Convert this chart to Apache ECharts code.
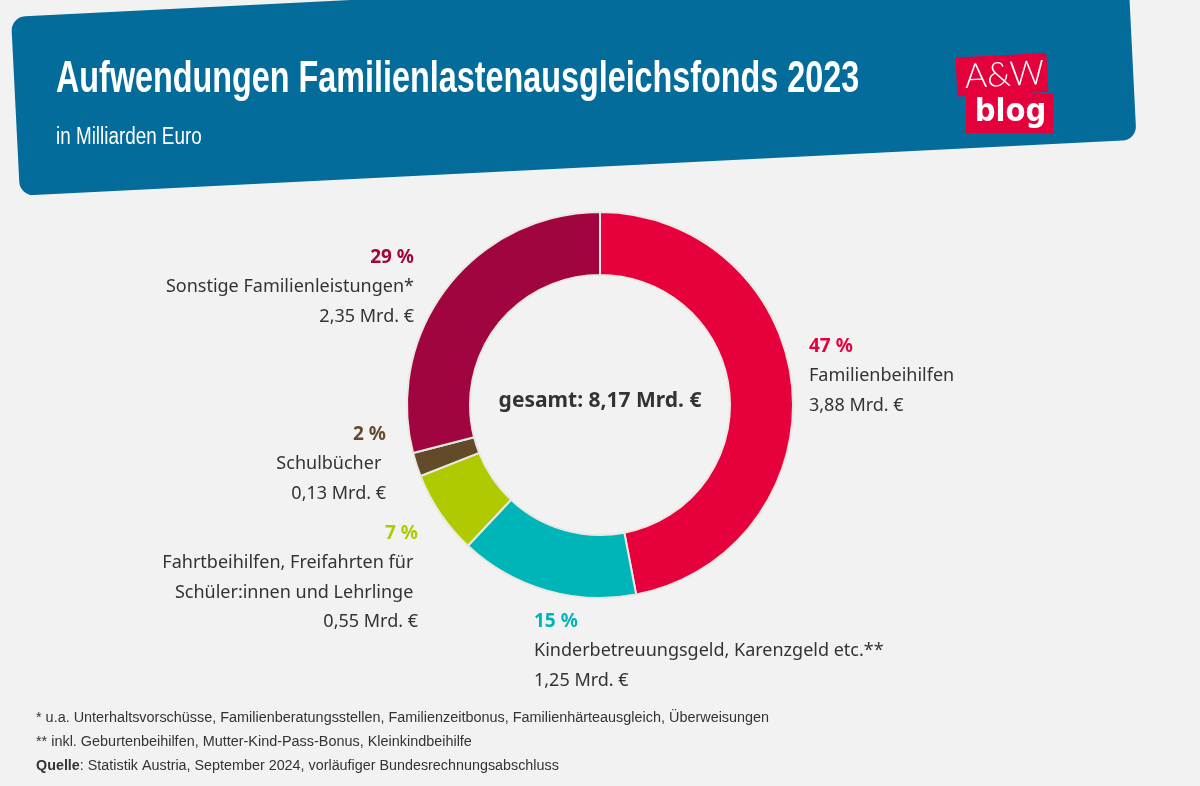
<!DOCTYPE html>
<html>
<head>
<meta charset="utf-8">
<title>Aufwendungen Familienlastenausgleichsfonds 2023</title>
<script src="https://cdn.jsdelivr.net/npm/echarts@6/dist/echarts.min.js"></script>
<style>
  html, body { margin: 0; padding: 0; background: #f2f2f2; }
  #chart { width: 1200px; height: 786px; }
</style>
</head>
<body>
<div id="chart"></div>
<script>
// Werte aus der Grafik
var categories = [
  ['Familienbeihilfen'],
  ['Kinderbetreuungsgeld, Karenzgeld etc.**'],
  ['Fahrtbeihilfen, Freifahrten für ', 'Schüler:innen und Lehrlinge '],
  ['Schulbücher '],
  ['Sonstige Familienleistungen*']
];
var shares = [47, 15, 7, 2, 29];
var amounts = [3.88, 1.25, 0.55, 0.13, 2.35];
var colors = ['#e6003c', '#00b5b8', '#afca00', '#634a29', '#a1053f'];
var titleText = 'Aufwendungen Familienlastenausgleichsfonds 2023';
var subtitleText = 'in Milliarden Euro';
var totalText = 'gesamt: 8,17 Mrd. €';
var footnotes = [
  '* u.a. Unterhaltsvorschüsse, Familienberatungsstellen, Familienzeitbonus, Familienhärteausgleich, Überweisungen',
  '** inkl. Geburtenbeihilfen, Mutter-Kind-Pass-Bonus, Kleinkindbeihilfe'
];

// Platz der Beschriftungen (Anker x, oberer Rand y)
var labelPlaces = [
  { x: 809, y: 332, align: 'left' },
  { x: 534, y: 607, align: 'left' },
  { x: 418, y: 519, align: 'right' },
  { x: 386, y: 420, align: 'right' },
  { x: 414, y: 243, align: 'right' }
];

var bodyFont = '"Noto Sans", sans-serif';
var narrowFont = '"Liberation Sans", sans-serif';
var textColor = '#333333';

var pieData = [];
for (var i = 0; i < shares.length; i++) {
  pieData.push({
    name: categories[i].join(' '),
    value: shares[i],
    itemStyle: { color: colors[i] },
    label: {
      formatter: function (i) {
        var lines = ['{pct|' + shares[i] + ' %}'];
        for (var j = 0; j < categories[i].length; j++) {
          lines.push('{txt|' + categories[i][j] + '}');
        }
        lines.push('{txt|' + amounts[i].toFixed(2).replace('.', ',') + ' Mrd. €}');
        return lines.join('\n');
      }(i),
      rich: {
        pct: { fontFamily: bodyFont, fontSize: 19, fontWeight: 'bold', color: colors[i], lineHeight: 29.5, align: labelPlaces[i].align },
        txt: { fontFamily: bodyFont, fontSize: 18, color: textColor, lineHeight: 29.5, align: labelPlaces[i].align }
      }
    }
  });
}

var footerGraphics = [];
for (var k = 0; k < footnotes.length; k++) {
  footerGraphics.push({
    type: 'text',
    x: 36,
    y: 710 + k * 24,
    scaleX: 0.93,
    style: { text: footnotes[k], font: '15.5px ' + narrowFont, fill: textColor }
  });
}
footerGraphics.push({
  type: 'text',
  x: 36,
  y: 758,
  scaleX: 0.925,
  style: {
    text: '{b|Quelle}: Statistik Austria, September 2024, vorläufiger Bundesrechnungsabschluss',
    font: '15.5px ' + narrowFont,
    fill: textColor,
    rich: { b: { fontFamily: narrowFont, fontSize: 15.5, fontWeight: 'bold', fill: textColor } }
  }
});

var option = {
  backgroundColor: '#f2f2f2',
  animation: false,
  title: [
    {
      text: totalText,
      left: 600,
      top: 391,
      padding: 0,
      textAlign: 'center',
      textStyle: { fontFamily: bodyFont, fontSize: 21, fontWeight: 'bold', color: textColor }
    }
  ],
  graphic: [
    // Kopfband
    {
      type: 'rect',
      x: 11,
      y: 17,
      rotation: 0.05,
      z: -1,
      shape: { x: 0, y: 0, width: 1118, height: 179, r: 14 },
      style: { fill: '#036c9b' }
    },
    {
      type: 'text',
      x: 56,
      y: 80,
      scaleX: 0.735,
      style: { text: titleText, font: 'bold 44px ' + narrowFont, fill: '#ffffff', textVerticalAlign: 'middle' }
    },
    {
      type: 'text',
      x: 56,
      y: 138,
      scaleX: 0.82,
      style: { text: subtitleText, font: '23px ' + narrowFont, fill: '#ffffff', textVerticalAlign: 'middle' }
    },
    // Logo
    {
      type: 'rect',
      x: 955.5,
      y: 57.5,
      rotation: 0.05,
      shape: { x: 0, y: 0, width: 91, height: 39 },
      style: { fill: '#e4003a' }
    },
    {
      type: 'rect',
      x: 966,
      y: 94,
      shape: { x: 0, y: 0, width: 87, height: 39 },
      style: { fill: '#e4003a' }
    },
    {
      type: 'text',
      x: 1004.5,
      y: 75,
      rotation: 0.05,
      style: { text: 'A&W', font: '300 34px Lato, sans-serif', fill: '#ffffff', textAlign: 'center', textVerticalAlign: 'middle' }
    },
    {
      type: 'text',
      x: 1010.5,
      y: 113,
      scaleX: 0.91,
      style: { text: 'blog', font: 'bold 32px "DejaVu Sans", sans-serif', fill: '#ffffff', textAlign: 'center', textVerticalAlign: 'middle' }
    }
  ].concat(footerGraphics),
  series: [
    {
      type: 'pie',
      center: [600, 405],
      radius: [130, 193],
      startAngle: 90,
      clockwise: true,
      silent: true,
      itemStyle: { borderColor: '#e9e9e2', borderWidth: 2 },
      label: { show: true, position: 'outside' },
      labelLine: { show: false },
      labelLayout: function (params) {
        var place = labelPlaces[params.dataIndex];
        return { x: place.x, y: place.y, align: place.align, verticalAlign: 'top' };
      },
      data: pieData
    }
  ]
};

var chart = echarts.init(document.getElementById('chart'));
chart.setOption(option);
</script>
</body>
</html>
